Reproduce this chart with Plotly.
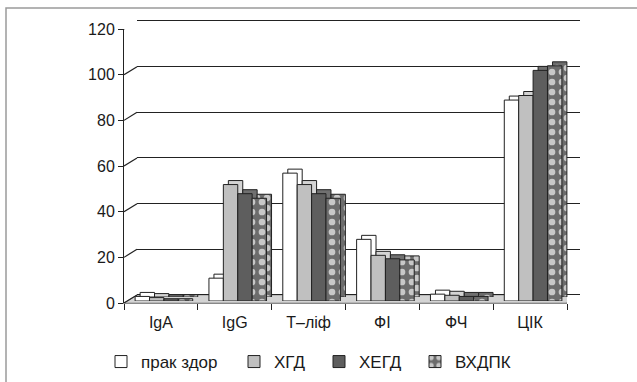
import plotly.graph_objects as go

categories = ["IgA", "IgG", "Т–ліф", "ФІ", "ФЧ", "ЦІК"]
series_names = ["прак здор", "ХГД", "ХЕГД", "ВХДПК"]
prak_zdor = [2, 10, 56, 27, 3, 88]
hgd = [1.5, 51, 51, 20, 2.5, 90]
hegd = [1, 47, 47, 18.5, 2, 101]
vhdpk = [1, 45, 45, 18, 2, 103]
series_values = [prak_zdor, hgd, hegd, vhdpk]
y_ticks = [0, 20, 40, 60, 80, 100, 120]

W, H = 637, 382
def fx(p): return p / W
def fy(p): return 1 - p / H

# front plane in pixels
FX0, FX1, FY0, FY1 = 124, 567, 303, 29
YMAX = 120
PPU = (FY0 - FY1) / YMAX   # pixels per unit
DEPTH = (13, 8)      # back wall offset
FACE = (3, 2)        # bar front face offset
BAR_D = (5, 4)       # bar depth
EXT = 1.0            # small range extension so edge gridlines are drawn

def dom(dx, dy, ext=0.0):
    e = ext * PPU
    return dict(x=[fx(FX0 + dx), fx(FX1 + dx)],
                y=[fy(FY0 - dy + e), fy(FY1 - dy - e)])

fills = ["#ffffff", "#c0c0c0", "#5e5e5e", "#6c6c6c"]
side_fills = ["#ffffff", "#d4d4d4", "#707070", "#6c6c6c"]
font = "Liberation Sans, Arial"
line_c = "#222"
legend_ids = ["legend", "legend2", "legend3", "legend4"]
legend_text_x = [139, 272, 357, 453]   # pixel positions of legend entries

fig = go.Figure()

# subplot 1 (x/y): floor + diagonal connectors, front-plane scale (drawn first)
ddx = 6 * DEPTH[0] / (FX1 - FX0)
ddy = DEPTH[1] / PPU
fig.add_trace(go.Scatter(x=[-0.5, 5.5, 5.5 + ddx, -0.5 + ddx, -0.5], y=[0, 0, ddy, ddy, 0],
                         mode="lines", fill="toself", fillcolor="#d4d4d4",
                         line=dict(color="#999", width=1),
                         xaxis="x", yaxis="y", showlegend=False, hoverinfo="skip",
                         cliponaxis=False))
xs, ys = [], []
for v in y_ticks:
    xs += [-0.5, -0.5 + ddx, None]
    ys += [v, v + ddy, None]
xs += [5.5, 5.5 + ddx, None]
ys += [0, ddy, None]
fig.add_trace(go.Scatter(x=xs, y=ys, mode="lines", line=dict(color=line_c, width=1.2),
                         xaxis="x", yaxis="y", showlegend=False, hoverinfo="skip",
                         cliponaxis=False))

# subplot 2 (x2/y2): back wall gridlines - invisible placeholder trace
fig.add_trace(go.Bar(x=categories, y=[0]*6, xaxis="x2", yaxis="y2",
                     showlegend=False, hoverinfo="skip", marker_color="rgba(0,0,0,0)"))

# subplot 3: bar depth (back faces)
for i, (name, vals) in enumerate(zip(series_names, series_values)):
    m = dict(color=side_fills[i], line=dict(color=line_c, width=1))
    if i == 3:
        m["pattern"] = dict(shape=".", fgcolor="#c8c8c8", bgcolor=side_fills[i], size=10,
                            solidity=0.35, fillmode="replace")
    fig.add_trace(go.Bar(x=categories, y=vals, name=name, xaxis="x3", yaxis="y3",
                         marker=m, showlegend=False, hoverinfo="skip"))

# subplot 4: front faces
for i, (name, vals) in enumerate(zip(series_names, series_values)):
    m = dict(color=fills[i], line=dict(color=line_c, width=1))
    if i == 3:
        m["pattern"] = dict(shape=".", fgcolor="#c8c8c8", bgcolor=fills[i], size=10,
                            solidity=0.35, fillmode="replace")
    fig.add_trace(go.Bar(x=categories, y=vals, name=name, xaxis="x4", yaxis="y4", marker=m,
                         legend=legend_ids[i], showlegend=True))

# subplot 5: front axes (labels) - invisible placeholder trace
fig.add_trace(go.Bar(x=categories, y=[0]*6, xaxis="x5", yaxis="y5",
                     showlegend=False, hoverinfo="skip", marker_color="rgba(0,0,0,0)"))

hidden_x = dict(type="category", range=[-0.5, 5.5], showgrid=False, zeroline=False,
                showticklabels=False, ticks="", showline=False, automargin=False)
hidden_y = dict(range=[0, YMAX], showgrid=False, zeroline=False, showticklabels=False,
                ticks="", showline=False, automargin=False)

d_back = dom(DEPTH[0], DEPTH[1], EXT)
d_depth = dom(FACE[0] + BAR_D[0], FACE[1] + BAR_D[1])
d_face = dom(FACE[0], FACE[1])
d_front = dom(0, 0)

legends = {}
for lid, tx in zip(legend_ids, legend_text_x):
    legends[lid] = dict(orientation="h", x=fx(tx - 38), xanchor="left", y=fy(344), yanchor="top",
                        font=dict(size=17, family=font), itemwidth=30,
                        bgcolor="rgba(0,0,0,0)")

fig.update_layout(
    template="none",
    width=W, height=H,
    margin=dict(l=0, r=0, t=0, b=0, pad=0, autoexpand=False),
    paper_bgcolor="white", plot_bgcolor="rgba(0,0,0,0)",
    barmode="group", bargap=0.22, bargroupgap=0,
    font=dict(family=font, size=16, color="#1a1a1a"),
    xaxis=dict(range=[-0.5, 5.5], domain=d_front["x"], anchor="y", visible=False, automargin=False),
    yaxis=dict(range=[0, YMAX], domain=d_front["y"], anchor="x", visible=False, automargin=False),
    xaxis2=dict(hidden_x, domain=d_back["x"], anchor="y2"),
    yaxis2=dict(range=[-EXT, YMAX + EXT], domain=d_back["y"], anchor="x2", tickvals=y_ticks,
                showgrid=True, gridcolor=line_c, gridwidth=1, zeroline=False,
                showticklabels=False, ticks="", showline=False, automargin=False),
    xaxis3=dict(hidden_x, domain=d_depth["x"], anchor="y3"),
    yaxis3=dict(hidden_y, domain=d_depth["y"], anchor="x3"),
    xaxis4=dict(hidden_x, domain=d_face["x"], anchor="y4"),
    yaxis4=dict(hidden_y, domain=d_face["y"], anchor="x4"),
    xaxis5=dict(type="category", range=[-0.5, 5.5], domain=d_front["x"], anchor="y5",
                showgrid=False, zeroline=False, showline=True, linecolor="#888", linewidth=1,
                ticks="outside", tickson="boundaries", ticklen=6, tickcolor=line_c,
                ticklabelstandoff=5, tickfont=dict(size=16, family=font), automargin=False),
    yaxis5=dict(range=[0, YMAX], domain=d_front["y"], anchor="x5", tickvals=y_ticks,
                showgrid=False, zeroline=False, showline=True, linecolor=line_c, linewidth=1,
                ticks="outside", ticklen=5, tickcolor=line_c, tickfont=dict(size=16, family=font),
                automargin=False),
    shapes=[dict(type="rect", xref="paper", yref="paper", x0=fx(6), x1=1.05, y0=-0.05, y1=fy(8),
                 line=dict(color="#9a9a9a", width=1.5), fillcolor="rgba(0,0,0,0)", layer="below")],
    **legends,
)

fig.write_html("out.html")
